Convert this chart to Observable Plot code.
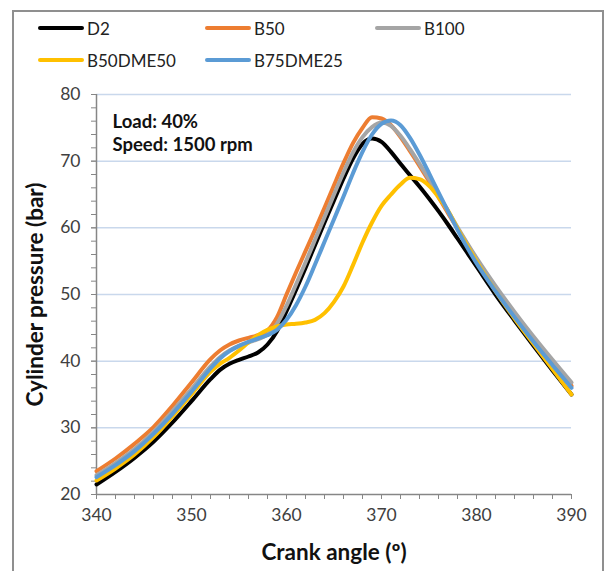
<!DOCTYPE html>
<html>
<head>
<meta charset="utf-8">
<script src="https://cdn.jsdelivr.net/npm/d3@7"></script>
<script src="https://cdn.jsdelivr.net/npm/@observablehq/plot@0.6"></script>
<style>
  html, body { margin: 0; padding: 0; background: #fff; }
  #wrap { position: relative; width: 607px; height: 571px; overflow: hidden; font-family: Lato, "Open Sans", sans-serif; }
  #frame { position: absolute; left: 12px; top: 10px; width: 588px; height: 600px; border: 2px solid #8f8f8f; pointer-events: none; }
  #legend { position: relative; height: 80px; }
  .item { position: absolute; display: flex; align-items: center; font-size: 17px; color: #222; }
  .item .sw { width: 46px; height: 4px; border-radius: 2px; margin-right: 3px; }
  #chart svg { display: block; }
</style>
</head>
<body>
<div id="wrap">
  <div id="legend"></div>
  <div id="chart"></div>
  <div id="frame"></div>
</div>
<script>
// Crank angle (deg)
const angles = [340,342,344,346,348,350,352,353,354,355,356,357,358,359,360,361,362,363,364,365,366,367,368,369,370,371,372,373,374,375,376,377,378,380,382,384,386,388,390];
const seriesNames = ["D2","B50","B100","B50DME50","B75DME25"];
const seriesColors = ["#000000","#ED7D31","#A5A5A5","#FFC000","#5B9BD5"];
// Cylinder pressure (bar)
const d2 =       [21.5,23.4,25.5,27.9,30.8,34.0,37.3,38.7,39.6,40.2,40.7,41.3,42.5,44.5,47.5,50.7,54.0,57.4,60.8,64.1,67.4,70.4,72.6,73.4,72.9,71.4,69.6,67.9,66.2,64.4,62.5,60.5,58.4,54.2,50.0,46.1,42.3,38.6,35.0];
const b50 =      [23.5,25.4,27.6,30.1,33.3,36.8,40.3,41.6,42.5,43.1,43.5,43.9,44.6,46.6,50.0,53.3,56.5,59.7,63.0,66.4,69.7,72.7,75.0,76.6,76.4,75.4,73.6,71.5,69.3,67.0,64.6,62.2,59.9,55.3,51.0,47.1,43.4,39.8,36.3];
const b100 =     [22.9,24.7,26.8,29.4,32.5,35.8,39.2,40.6,41.6,42.3,42.8,43.3,44.0,45.6,48.3,51.5,54.8,58.2,61.6,65.0,68.3,71.3,73.6,75.1,75.8,75.3,73.8,71.8,69.6,67.3,64.9,62.5,60.1,55.5,51.3,47.4,43.7,40.2,36.8];
const b50dme50 = [22.1,23.9,26.0,28.6,31.7,35.0,38.4,39.6,40.5,41.6,42.8,43.9,44.7,45.2,45.5,45.6,45.8,46.2,47.2,48.9,51.2,54.4,57.8,60.8,63.3,65.0,66.5,67.5,67.3,66.3,64.6,62.6,59.9,55.0,50.5,46.4,42.6,38.8,35.0];
const b75dme25 = [22.6,24.4,26.5,29.1,32.1,35.4,38.9,40.4,41.5,42.3,42.9,43.4,43.9,44.7,46.2,48.4,51.2,54.5,57.9,61.3,64.7,68.2,71.4,74.0,75.6,76.1,75.4,73.5,71.0,68.2,65.3,62.5,59.7,54.7,50.5,46.6,42.9,39.4,36.0];
const xTicks = [340,350,360,370,380,390];
const yTicks = [20,30,40,50,60,70,80];
const gridValues = [30,40,50,60,70,80];
const annotation1 = "Load: 40%";
const annotation2 = "Speed: 1500 rpm";
const xLabel = "Crank angle (º)";
const yLabel = "Cylinder pressure (bar)";

const valuesBySeries = [d2, b50, b100, b50dme50, b75dme25];
const rows = [];
seriesNames.forEach((s, i) => angles.forEach((a, j) => rows.push({series: s, angle: a, p: valuesBySeries[i][j]})));

// legend
const legendPos = [[38,28],[205,28],[375,28],[38,60],[205,60]];
const legend = document.getElementById("legend");
seriesNames.forEach((s, i) => {
  const it = document.createElement("div");
  it.className = "item";
  it.style.left = legendPos[i][0] + "px";
  it.style.top = (legendPos[i][1] - 10) + "px";
  it.style.height = "20px";
  it.innerHTML = `<span class="sw" style="background:${seriesColors[i]}"></span><span>${s}</span>`;
  legend.appendChild(it);
});

const axisColor = "#868686";
const chart = Plot.plot({
  width: 607,
  height: 491,
  marginLeft: 96,
  marginRight: 36,
  marginTop: 14,
  marginBottom: 77,
  style: {fontFamily: "Lato, 'Open Sans', sans-serif", fontSize: "17.5px", color: "#404040", background: "transparent"},
  x: {domain: [340, 390]},
  y: {domain: [20, 80]},
  color: {domain: seriesNames, range: seriesColors},
  marks: [
    Plot.ruleY(gridValues, {stroke: "#c9d8ec", strokeWidth: 1.5}),
    Plot.axisX({ticks: d3.range(340, 391, 2), tickFormat: () => "", tickSize: 5, stroke: axisColor, label: null}),
    Plot.axisY({ticks: d3.range(20, 81, 2), tickFormat: () => "", tickSize: 5, stroke: axisColor, label: null}),
    Plot.axisX({ticks: xTicks, tickSize: 5, tickPadding: 9, stroke: axisColor, fill: "#404040", label: null}),
    Plot.axisY({ticks: yTicks, tickSize: 5, tickPadding: 11, stroke: axisColor, fill: "#404040", label: null}),
    Plot.ruleX([340], {stroke: axisColor, strokeWidth: 1.5}),
    Plot.ruleY([20], {stroke: axisColor, strokeWidth: 1.5}),
    Plot.line(rows, {x: "angle", y: "p", z: "series", stroke: "series", strokeWidth: 4, curve: "monotone-x"}),
    Plot.text([annotation1], {frameAnchor: "top-left", dx: 16, dy: 28,
      fontWeight: "bold", fontSize: 18.5, fill: "#111", textAnchor: "start", lineAnchor: "middle"}),
    Plot.text([annotation2], {frameAnchor: "top-left", dx: 16, dy: 51,
      fontWeight: "bold", fontSize: 18.5, fill: "#111", textAnchor: "start", lineAnchor: "middle"}),
    Plot.text([xLabel], {frameAnchor: "bottom", dy: 58, fontWeight: "bold", fontSize: 22.5, fill: "#111", lineAnchor: "middle"}),
    Plot.text([yLabel], {frameAnchor: "left", dx: -61, rotate: -90, fontWeight: "bold", fontSize: 22.5, fill: "#111", lineAnchor: "middle", textAnchor: "middle"})
  ]
});
document.getElementById("chart").appendChild(chart);
</script>
</body>
</html>
